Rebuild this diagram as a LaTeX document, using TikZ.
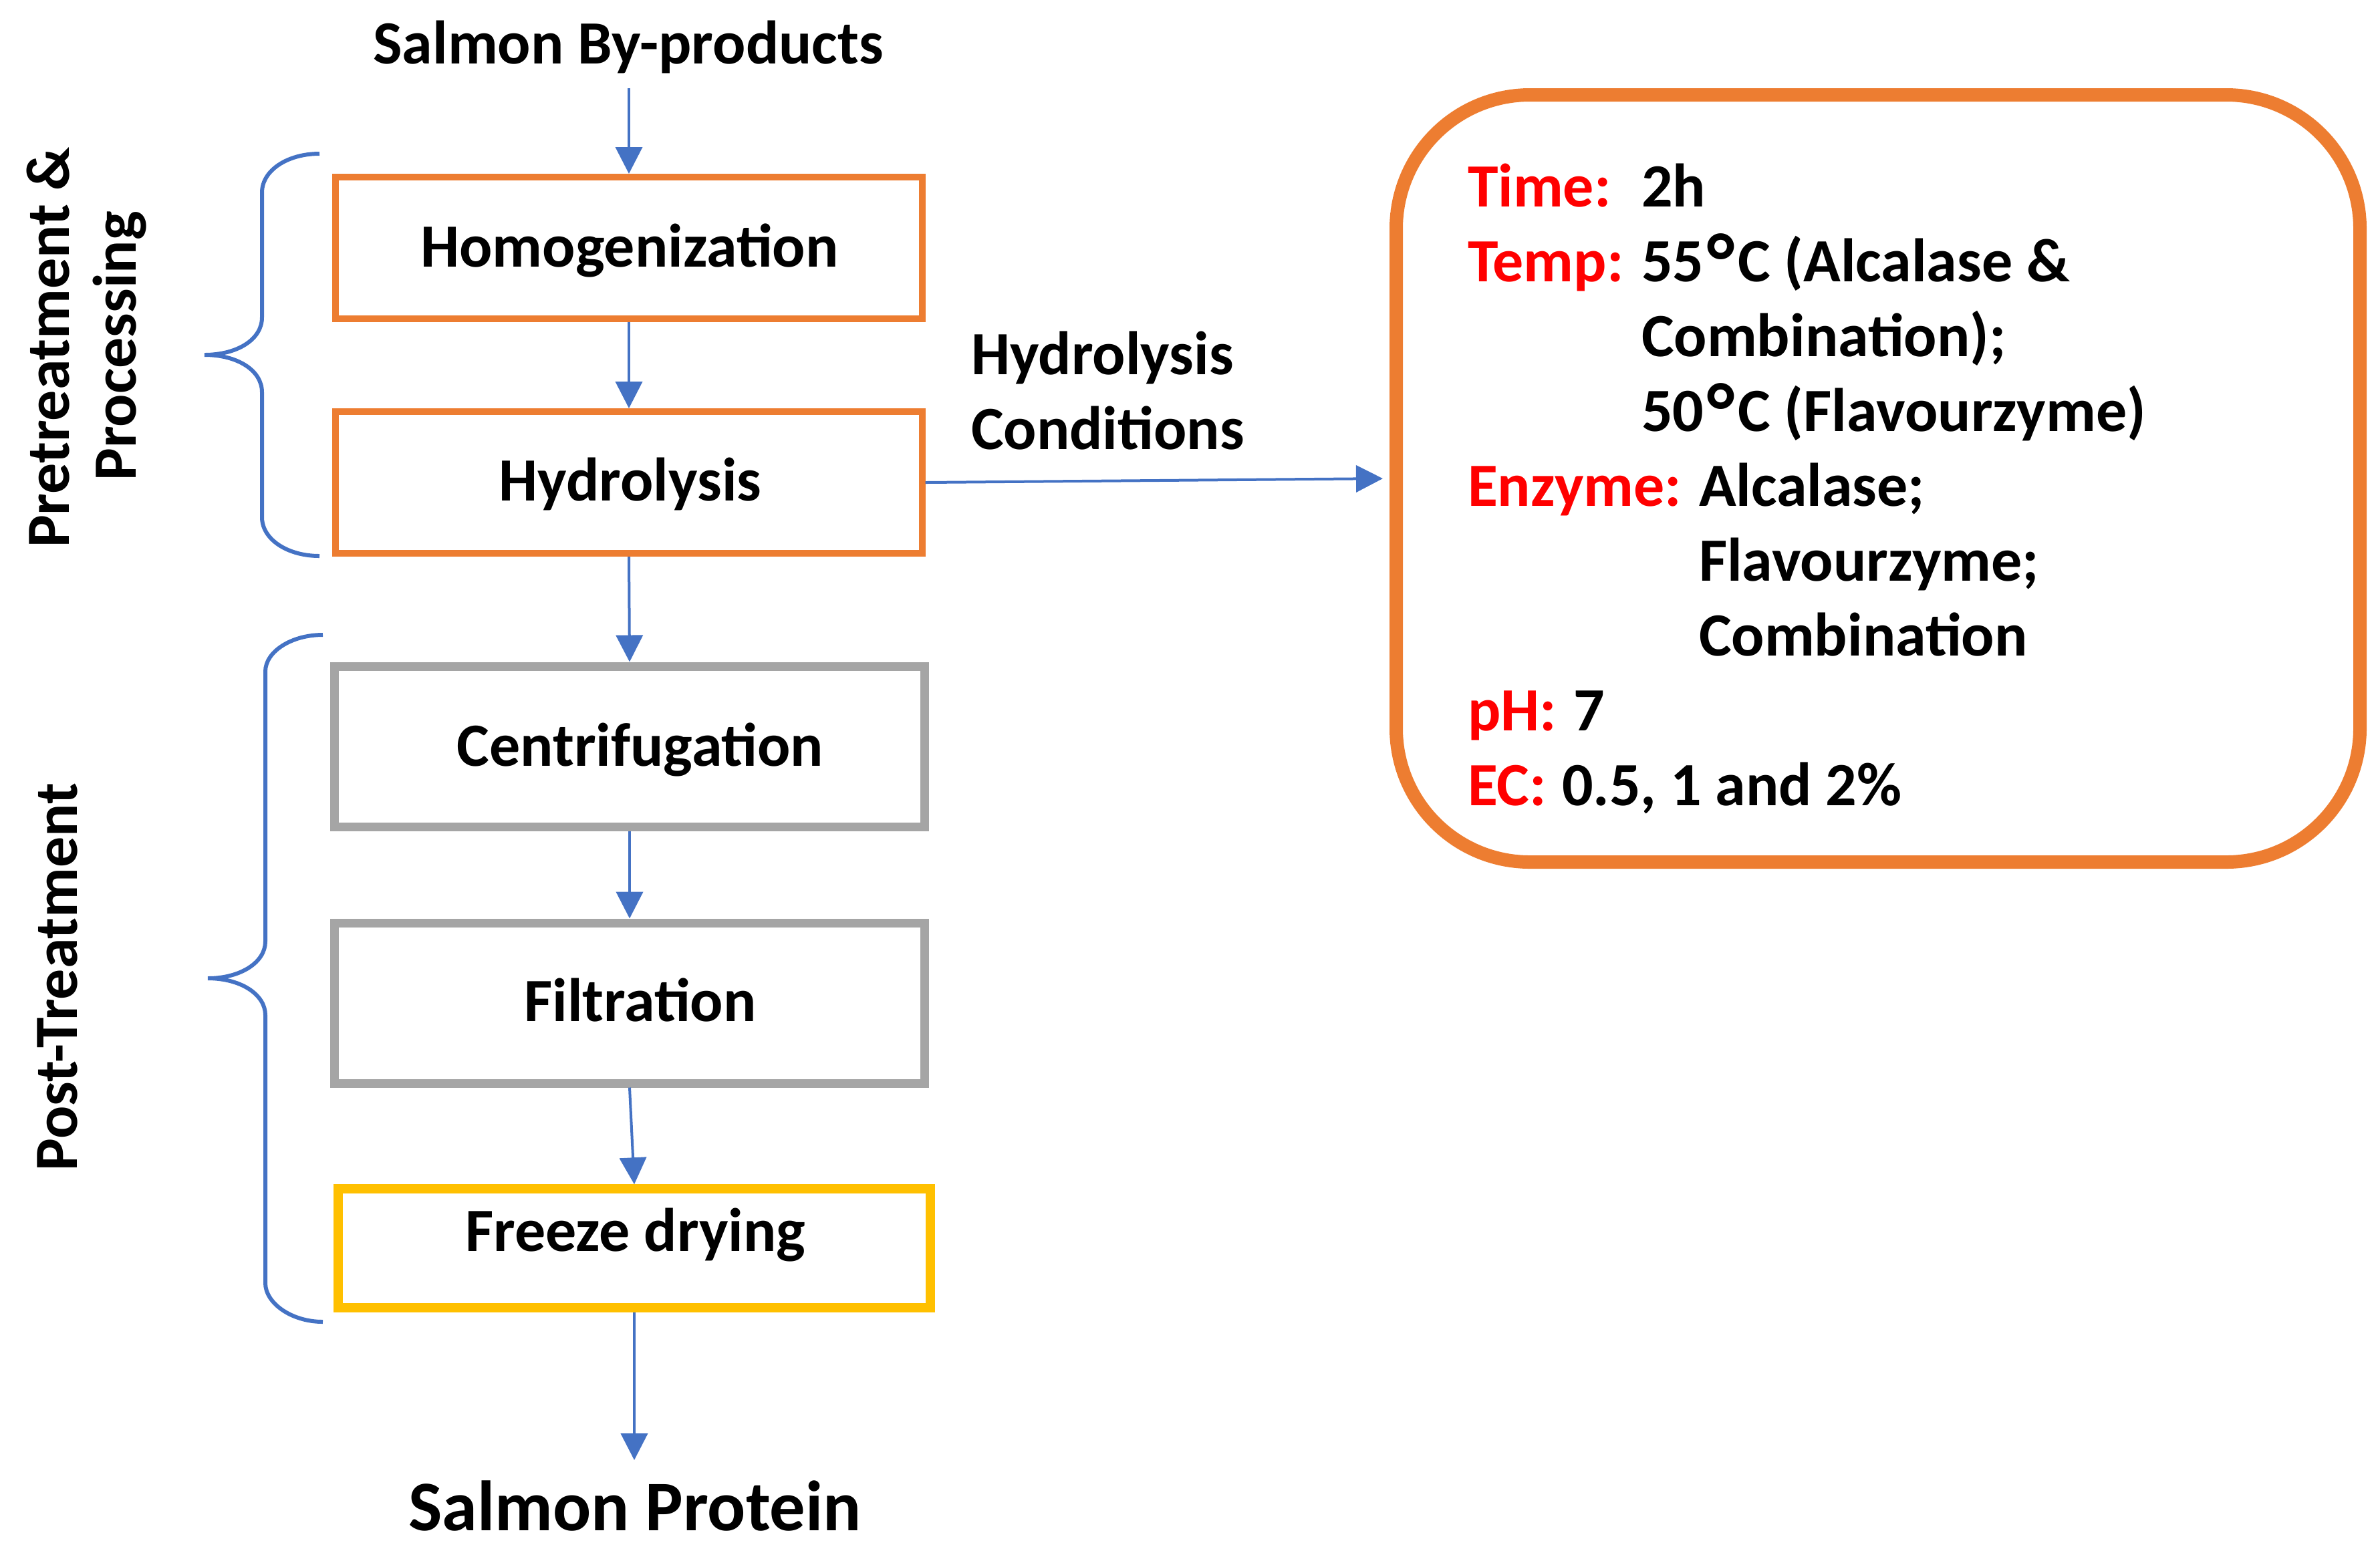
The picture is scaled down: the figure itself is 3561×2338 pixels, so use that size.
\documentclass[tikz,border=0pt]{standalone}
\usepackage{fontspec}
\setmainfont{Carlito}
\usetikzlibrary{arrows.meta}
\definecolor{orng}{HTML}{ED7D31}
\definecolor{gry}{HTML}{A5A5A5}
\definecolor{ylw}{HTML}{FFC000}
\definecolor{blu}{HTML}{4472C4}
\definecolor{rd}{HTML}{FF0000}
\newcommand{\bigdeg}{\kern1pt\raisebox{-2.2pt}{\fontsize{24}{24}\selectfont °}\kern1pt}
\begin{document}
\begin{tikzpicture}[x=0.2pt,y=-0.2pt,
  txt/.style={font=\fontsize{18.4}{22}\selectfont\bfseries, inner sep=0pt, anchor=base},
  lab/.style={txt, anchor=base west},
  redlab/.style={lab, text=rd},
  obox/.style={draw=orng, line width=2pt, minimum width=175.4pt, minimum height=42.4pt, inner sep=0pt},
  gbox/.style={draw=gry, line width=2.6pt, minimum width=176.4pt, minimum height=48pt, inner sep=0pt},
  ybox/.style={draw=ylw, line width=2.7pt, minimum width=177.2pt, minimum height=35.6pt, inner sep=0pt},
  arr/.style={draw=blu, line width=0.8pt, -{Triangle[length=8pt,width=8pt]}},
  brace/.style={draw=blu, line width=1.2pt}]
\useasboundingbox (0,0) rectangle (3561,2338);

% boxes
\node[obox] (homog) at (941,371) {};
\node[obox] (hydro) at (941,722) {};
\node[gbox] (centr) at (942,1117) {};
\node[gbox] (filt) at (942,1501) {};
\node[ybox] (freeze) at (949,1868) {};
\node[draw=orng, line width=4pt, rounded corners=40pt, minimum width=288.4pt, minimum height=229.6pt, inner sep=0pt] (cond) at (2810,716) {};

% box labels
\node[txt] (homogT) at (942,399) {Homogenization};
\node[txt] (hydroT) at (943,749) {Hydrolysis};
\node[txt] (centrT) at (958,1146) {Centrifugation};
\node[txt] (filtT) at (958,1528) {Filtration};
\node[txt] (freezeT) at (951,1872) {Freeze drying};
\node[txt] (src) at (940,95) {Salmon By-products};
\node[txt, font=\fontsize{21.3}{25}\selectfont\bfseries] (prod) at (950,2290) {Salmon Protein};
\node[lab] (hc1) at (1452,560) {Hydrolysis};
\node[lab] (hc2) at (1452,672) {Conditions};

% rotated labels
\node[txt, rotate=90] (pre1) at (103,520) {Pretreatment \&};
\node[txt, rotate=90] (pre2) at (203,518) {Processing};
\node[txt, rotate=90] (post) at (115,1462) {Post-Treatment};

% conditions text
\node[redlab] (l1) at (2195,309) {Time:};
\node[lab] (v1) at (2455,309) {2h};
\node[redlab] (l2) at (2195,421) {Temp:};
\node[lab] (v2) at (2455,421) {55\bigdeg C (Alcalase \&};
\node[lab] (v3) at (2455,533) {Combination);};
\node[lab] (v4) at (2455,645) {50\bigdeg C (Flavourzyme)};
\node[redlab] (l3) at (2195,757) {Enzyme:};
\node[lab] (v5) at (2541,757) {Alcalase;};
\node[lab] (v6) at (2541,869) {Flavourzyme;};
\node[lab] (v7) at (2541,981) {Combination};
\node[redlab] (l4) at (2195,1093) {pH:};
\node[lab] (v8) at (2353,1093) {7};
\node[redlab] (l5) at (2195,1205) {EC:};
\node[lab] (v9) at (2336,1205) {0.5, 1 and 2\%};

% connectors
\coordinate (topstart) at (941,132);
\coordinate (botend) at (949,2185);
\draw[arr] (topstart) -- (homog.north);
\draw[arr] (homog.south) -- (hydro.north);
\draw[arr] (hydro.south) -- (centr.north);
\draw[arr] (centr.south) -- (filt.north);
\draw[arr] (filt.south) -- (freeze.north);
\draw[arr] (freeze.south) -- (botend);
\draw[arr, shorten >=2pt] (hydro.east) -- (cond.west);

% braces
\draw[brace] (478,230) .. controls (430,230) and (392,255) .. (392,288) -- (392,475)
  .. controls (392,508) and (355,531) .. (306,531)
  .. controls (355,531) and (392,554) .. (392,587) -- (392,774)
  .. controls (392,807) and (430,832) .. (478,832);
\draw[brace] (483,950) .. controls (436,950) and (397,975) .. (397,1005) -- (397,1409)
  .. controls (397,1440) and (360,1464) .. (311,1464)
  .. controls (360,1464) and (397,1488) .. (397,1519) -- (397,1920)
  .. controls (397,1950) and (436,1978) .. (483,1978);
\end{tikzpicture}
\end{document}
